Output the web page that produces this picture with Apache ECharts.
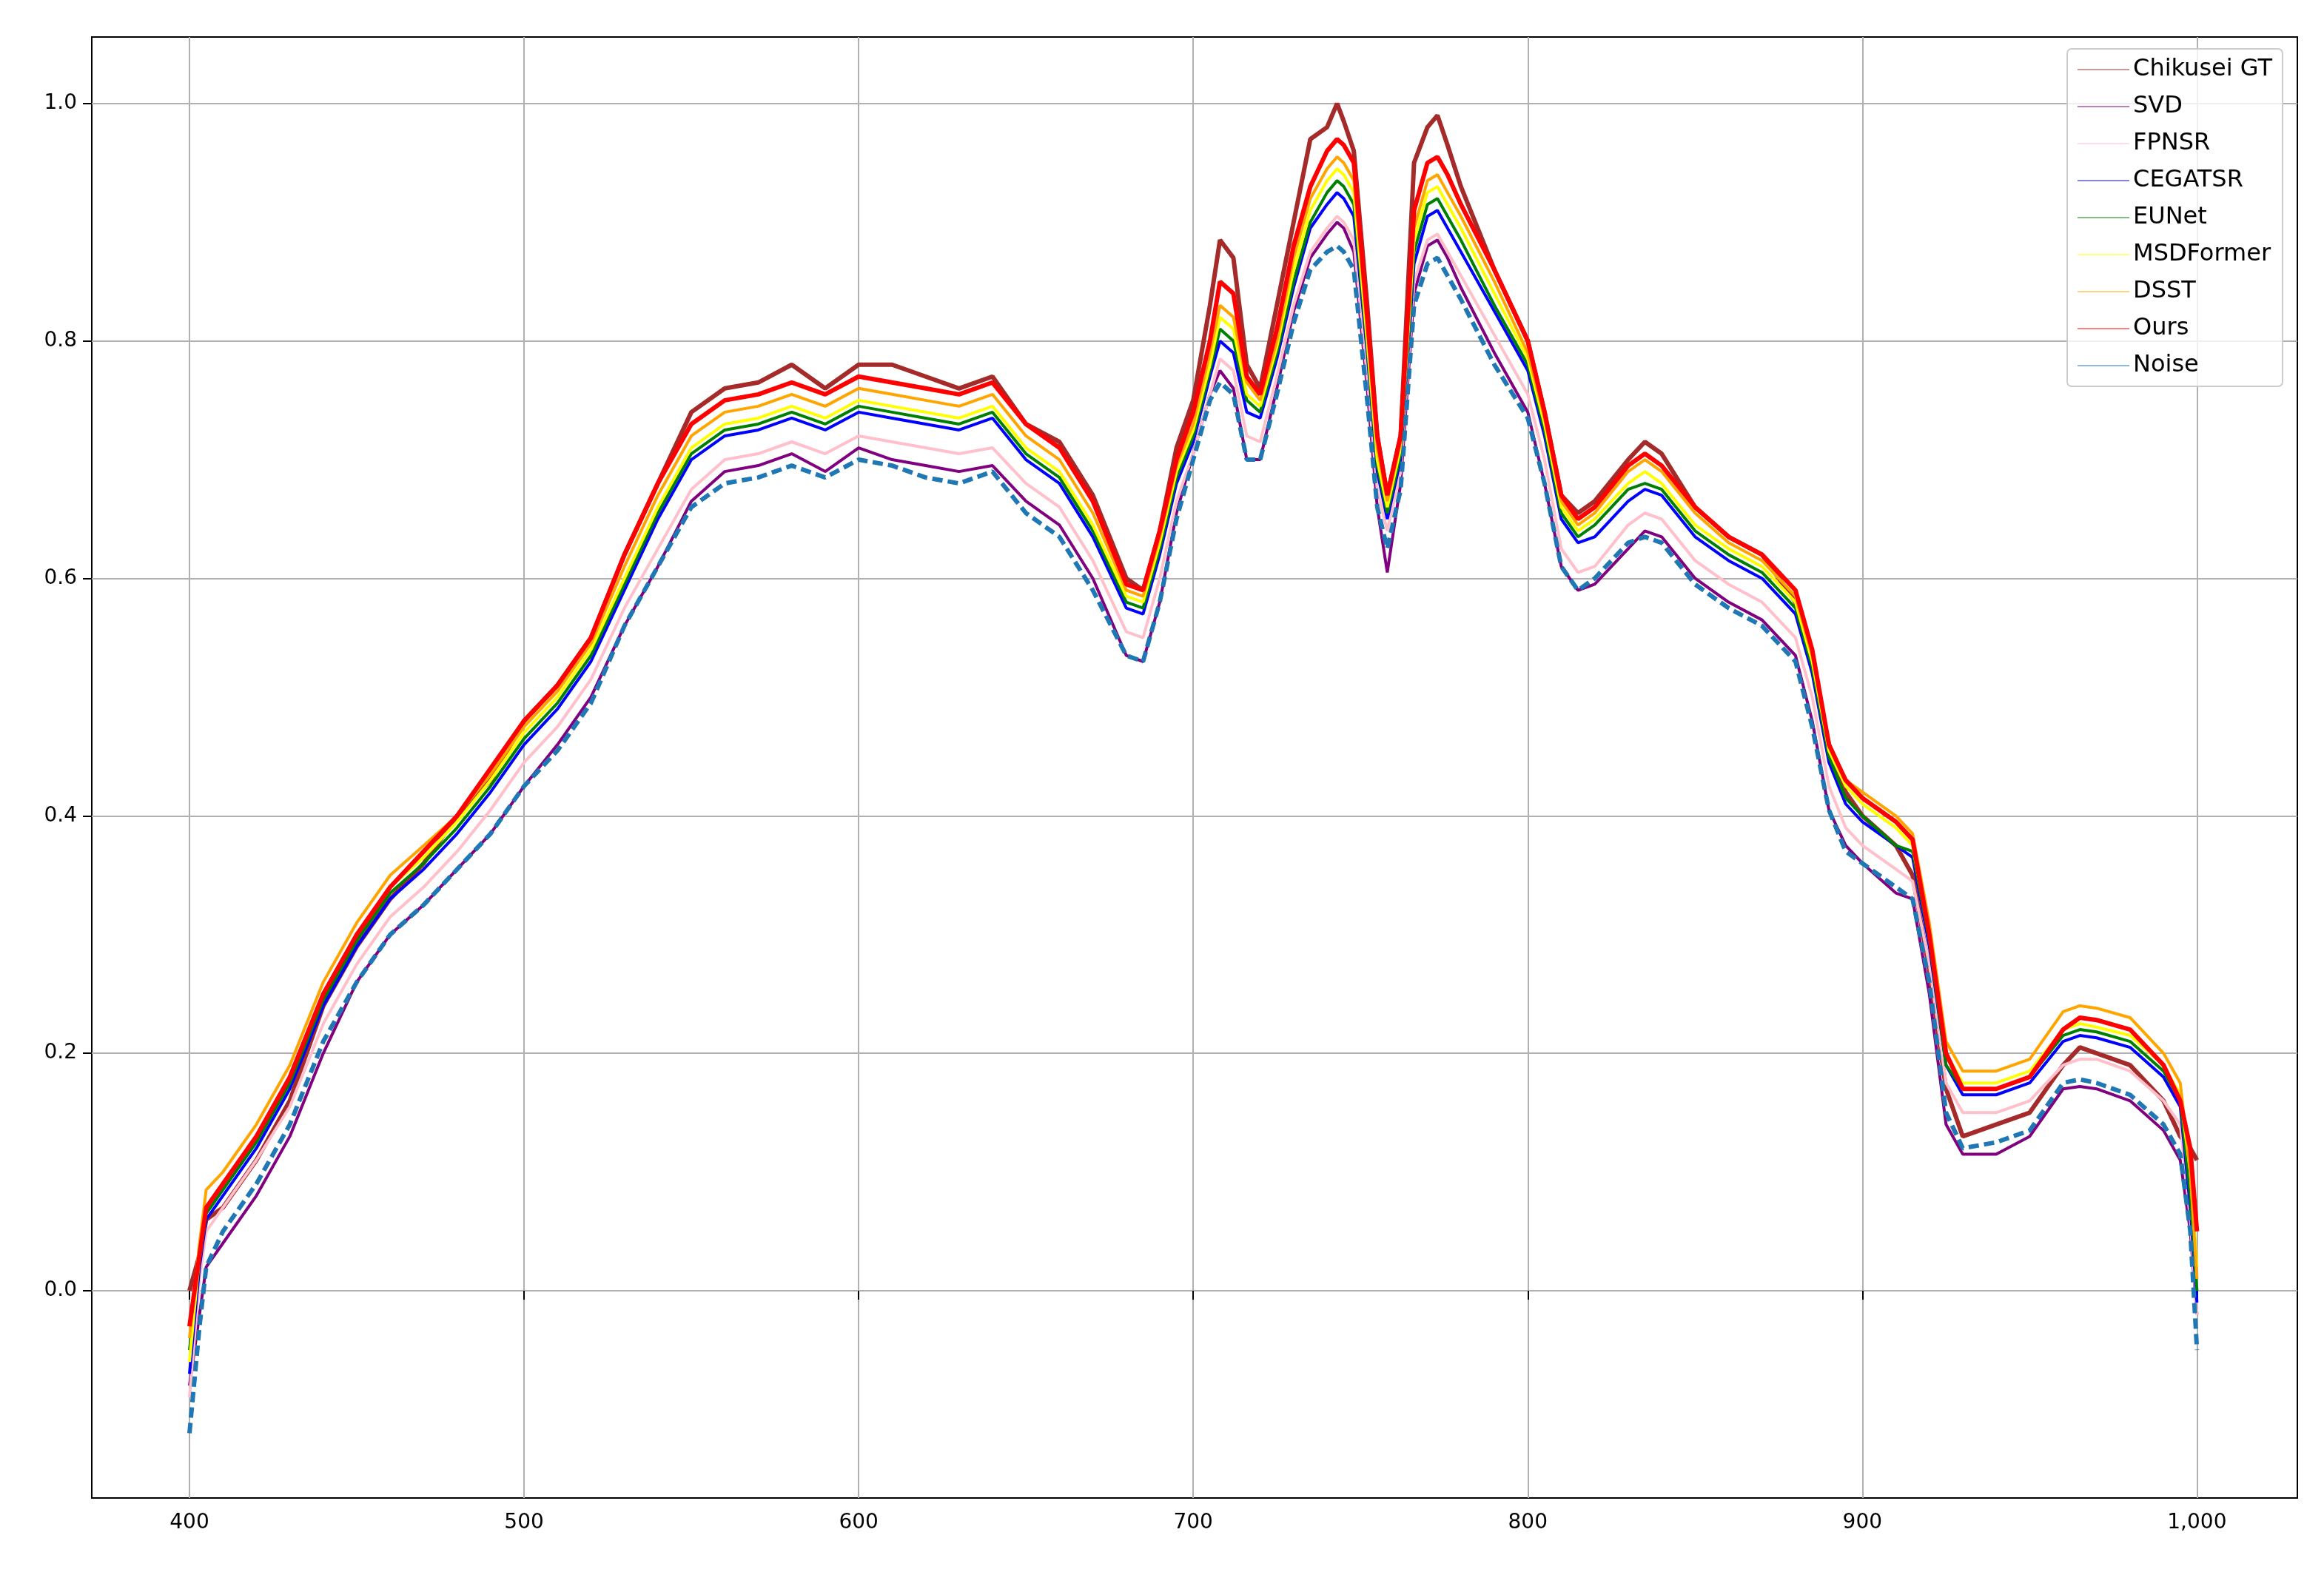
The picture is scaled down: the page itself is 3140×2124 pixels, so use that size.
<!DOCTYPE html>
<html><head><meta charset="utf-8">
<script src="https://cdn.jsdelivr.net/npm/echarts@6/dist/echarts.min.js"></script>
<style>html,body{margin:0;padding:0;background:#fff}#c{width:3140px;height:2124px}</style>
</head><body><div id="c"></div>
<script>
const wavelengths = [400,403,405,410,420,430,440,450,460,470,480,490,500,510,520,530,540,550,560,570,580,590,600,610,620,630,640,650,660,670,680,685,690,695,700,705,708,712,716,720,725,730,735,740,743,745,748,752,755,758,762,766,770,773,776,780,790,800,805,810,815,820,830,835,840,850,860,870,880,885,890,895,900,910,915,920,925,930,940,950,960,965,970,980,990,995,998,1000];
const gt = [0.0,0.03,0.06,0.07,0.11,0.16,0.24,0.29,0.33,0.36,
 0.40,0.43,0.48,0.51,0.55,0.62,0.68,0.74,0.76,0.765,
 0.78,0.76,0.78,0.78,0.77,0.76,0.77,0.73,0.715,0.67,
 0.60,0.59,0.64,0.71,0.75,0.83,0.885,0.87,0.78,0.76,
 0.83,0.90,0.97,0.98,1.0,0.985,0.96,0.83,0.72,0.67,
 0.72,0.95,0.98,0.99,0.965,0.93,0.86,0.80,0.74,0.67,
 0.655,0.665,0.70,0.715,0.705,0.66,0.635,0.62,0.58,0.53,
 0.46,0.42,0.40,0.375,0.35,0.27,0.17,0.13,0.14,0.15,
 0.19,0.205,0.20,0.19,0.16,0.13,0.12,0.11];
const svd = [-0.08,-0.02,0.02,0.04,0.08,0.13,0.20,0.26,0.30,0.325,
 0.355,0.385,0.425,0.46,0.50,0.56,0.61,0.665,0.69,0.695,
 0.705,0.69,0.71,0.70,0.695,0.69,0.695,0.665,0.645,0.60,
 0.535,0.53,0.58,0.655,0.705,0.755,0.775,0.76,0.70,0.70,
 0.76,0.825,0.87,0.89,0.9,0.895,0.875,0.76,0.66,0.605,
 0.68,0.84,0.88,0.885,0.87,0.845,0.79,0.74,0.68,0.61,
 0.59,0.595,0.625,0.64,0.635,0.60,0.58,0.565,0.535,0.48,
 0.405,0.375,0.36,0.335,0.33,0.25,0.14,0.115,0.115,0.13,
 0.17,0.172,0.17,0.16,0.135,0.11,0.05,-0.02];
const fpnsr = [-0.09,0.01,0.05,0.07,0.11,0.155,0.225,0.275,0.315,0.34,
 0.37,0.405,0.445,0.475,0.515,0.575,0.625,0.675,0.70,0.705,
 0.715,0.705,0.72,0.715,0.71,0.705,0.71,0.68,0.66,0.615,
 0.555,0.55,0.60,0.665,0.705,0.755,0.785,0.775,0.72,0.715,
 0.77,0.83,0.875,0.895,0.905,0.90,0.885,0.77,0.675,0.64,
 0.69,0.85,0.885,0.89,0.875,0.855,0.805,0.755,0.70,0.625,
 0.605,0.61,0.645,0.655,0.65,0.615,0.595,0.58,0.55,0.50,
 0.425,0.39,0.375,0.355,0.345,0.275,0.175,0.15,0.15,0.16,
 0.19,0.195,0.195,0.185,0.16,0.14,0.06,-0.02];
const cegatsr = [-0.07,0.02,0.06,0.08,0.12,0.17,0.24,0.29,0.33,0.355,
 0.385,0.42,0.46,0.49,0.53,0.59,0.65,0.70,0.72,0.725,
 0.735,0.725,0.74,0.735,0.73,0.725,0.735,0.70,0.68,0.635,
 0.575,0.57,0.62,0.68,0.715,0.77,0.80,0.79,0.74,0.735,
 0.785,0.845,0.895,0.915,0.925,0.92,0.905,0.79,0.69,0.65,
 0.70,0.865,0.905,0.91,0.895,0.875,0.825,0.775,0.72,0.65,
 0.63,0.635,0.665,0.675,0.67,0.635,0.615,0.60,0.57,0.52,
 0.445,0.41,0.395,0.375,0.365,0.29,0.19,0.165,0.165,0.175,
 0.21,0.215,0.213,0.205,0.18,0.155,0.07,-0.01];
const eunet = [-0.05,0.025,0.065,0.085,0.125,0.175,0.245,0.295,0.335,0.36,
 0.39,0.425,0.465,0.495,0.535,0.595,0.655,0.705,0.725,0.73,
 0.74,0.73,0.745,0.74,0.735,0.73,0.74,0.705,0.685,0.64,
 0.58,0.575,0.625,0.685,0.72,0.775,0.81,0.80,0.75,0.74,
 0.79,0.85,0.90,0.925,0.935,0.93,0.915,0.795,0.695,0.655,
 0.705,0.875,0.915,0.92,0.905,0.885,0.83,0.78,0.725,0.655,
 0.635,0.645,0.675,0.68,0.675,0.64,0.62,0.605,0.575,0.525,
 0.45,0.415,0.40,0.375,0.37,0.295,0.19,0.17,0.17,0.18,
 0.215,0.22,0.218,0.21,0.185,0.16,0.08,0.0];
const msdformer = [-0.06,0.03,0.07,0.09,0.13,0.18,0.25,0.30,0.34,0.365,
 0.395,0.43,0.47,0.50,0.54,0.60,0.66,0.71,0.73,0.735,
 0.745,0.735,0.75,0.745,0.74,0.735,0.745,0.71,0.69,0.645,
 0.585,0.58,0.63,0.69,0.725,0.78,0.82,0.81,0.755,0.745,
 0.795,0.86,0.91,0.935,0.945,0.94,0.925,0.80,0.70,0.66,
 0.71,0.885,0.925,0.93,0.915,0.895,0.84,0.785,0.73,0.66,
 0.64,0.65,0.68,0.69,0.68,0.645,0.625,0.61,0.58,0.53,
 0.455,0.425,0.41,0.39,0.375,0.30,0.20,0.175,0.175,0.185,
 0.22,0.225,0.222,0.215,0.19,0.165,0.10,0.02];
const dsst = [-0.04,0.04,0.085,0.10,0.14,0.19,0.26,0.31,0.35,0.375,
 0.40,0.435,0.475,0.505,0.545,0.61,0.67,0.72,0.74,0.745,
 0.755,0.745,0.76,0.755,0.75,0.745,0.755,0.72,0.70,0.655,
 0.59,0.585,0.635,0.695,0.73,0.79,0.83,0.82,0.765,0.75,
 0.80,0.87,0.92,0.945,0.955,0.95,0.935,0.81,0.71,0.665,
 0.715,0.895,0.935,0.94,0.925,0.905,0.85,0.79,0.735,0.665,
 0.645,0.655,0.69,0.70,0.69,0.655,0.63,0.615,0.585,0.535,
 0.46,0.43,0.42,0.40,0.385,0.31,0.21,0.185,0.185,0.195,
 0.235,0.24,0.238,0.23,0.20,0.175,0.10,0.01];
const ours = [-0.03,0.03,0.07,0.09,0.13,0.18,0.25,0.30,0.34,0.37,
 0.40,0.44,0.48,0.51,0.55,0.62,0.68,0.73,0.75,0.755,
 0.765,0.755,0.77,0.765,0.76,0.755,0.765,0.73,0.71,0.665,
 0.595,0.59,0.64,0.70,0.74,0.80,0.85,0.84,0.77,0.755,
 0.81,0.88,0.93,0.96,0.97,0.965,0.95,0.82,0.72,0.67,
 0.72,0.91,0.95,0.955,0.94,0.915,0.86,0.80,0.74,0.67,
 0.65,0.66,0.695,0.705,0.695,0.66,0.635,0.62,0.59,0.54,
 0.46,0.43,0.415,0.395,0.38,0.30,0.20,0.17,0.17,0.18,
 0.22,0.23,0.228,0.22,0.19,0.16,0.12,0.05];
const noise = [-0.12,-0.03,0.02,0.05,0.09,0.14,0.21,0.26,0.30,0.325,
 0.355,0.385,0.425,0.455,0.495,0.56,0.61,0.66,0.68,0.685,
 0.695,0.685,0.70,0.695,0.685,0.68,0.69,0.655,0.635,0.59,
 0.535,0.53,0.58,0.65,0.70,0.75,0.765,0.755,0.70,0.70,
 0.755,0.815,0.86,0.875,0.88,0.875,0.86,0.75,0.66,0.625,
 0.675,0.83,0.865,0.87,0.855,0.835,0.78,0.735,0.68,0.61,
 0.59,0.60,0.63,0.635,0.63,0.595,0.575,0.56,0.53,0.475,
 0.405,0.37,0.36,0.34,0.33,0.26,0.15,0.12,0.125,0.135,
 0.175,0.178,0.175,0.165,0.14,0.115,0.05,-0.05];
const xTicks = [400,500,600,700,800,900,1000];
const yTicks = [0,0.2,0.4,0.6,0.8,1.0];

const defs = [
  ['Chikusei GT', gt, '#a52a2a', 6, 'solid'],
  ['SVD', svd, '#800080', 4, 'solid'],
  ['FPNSR', fpnsr, '#ffc0cb', 4, 'solid'],
  ['CEGATSR', cegatsr, '#0000ff', 4, 'solid'],
  ['EUNet', eunet, '#008000', 4, 'solid'],
  ['MSDFormer', msdformer, '#ffff00', 4, 'solid'],
  ['DSST', dsst, '#ffa500', 4, 'solid'],
  ['Ours', ours, '#ff0000', 6, 'solid'],
  ['Noise', noise, '#1f77b4', 6, [14, 7]]
];
const font = 'DejaVu Sans';
const chart = echarts.init(document.getElementById('c'));
chart.setOption({
  animation: false,
  backgroundColor: '#fff',
  grid: {left: 124, right: 36, top: 50, bottom: 100, show: true, borderColor: '#000', borderWidth: 2, backgroundColor: 'transparent'},
  legend: {
    orient: 'vertical', right: 56, top: 66,
    backgroundColor: 'rgba(255,255,255,0.8)', borderColor: '#cccccc', borderWidth: 2, borderRadius: 6,
    padding: [12, 14, 12, 14], itemGap: 18, itemWidth: 70, itemHeight: 36,
    textStyle: {fontFamily: font, fontSize: 32, color: '#000'},
    data: defs.map(d => ({name: d[0], icon: 'path://M0,0 L70,0 L70,1 L0,1 Z'}))
  },
  xAxis: {
    type: 'value', min: 370.8, max: 1030,
    axisLine: {show: false},
    axisTick: {show: true, length: 12, lineStyle: {color: '#000', width: 2}, customValues: xTicks},
    axisLabel: {fontFamily: font, fontSize: 28, color: '#000', margin: 20, customValues: xTicks},
    splitLine: {show: true, lineStyle: {color: '#b0b0b0', width: 2}}
  },
  yAxis: {
    type: 'value', min: -0.1746, max: 1.056,
    axisLine: {show: false},
    axisTick: {show: true, length: 12, lineStyle: {color: '#000', width: 2}, customValues: yTicks},
    axisLabel: {fontFamily: font, fontSize: 28, color: '#000', margin: 20, customValues: yTicks, formatter: v => v.toFixed(1)},
    splitLine: {show: true, lineStyle: {color: '#b0b0b0', width: 2}}
  },
  series: defs.map(d => ({
    name: d[0], type: 'line', showSymbol: false, symbol: 'none',
    data: wavelengths.map((w, i) => [w, d[1][i]]),
    itemStyle: {color: d[2]},
    lineStyle: {color: d[2], width: d[3], type: d[4]}
  }))
});
</script></body></html>
